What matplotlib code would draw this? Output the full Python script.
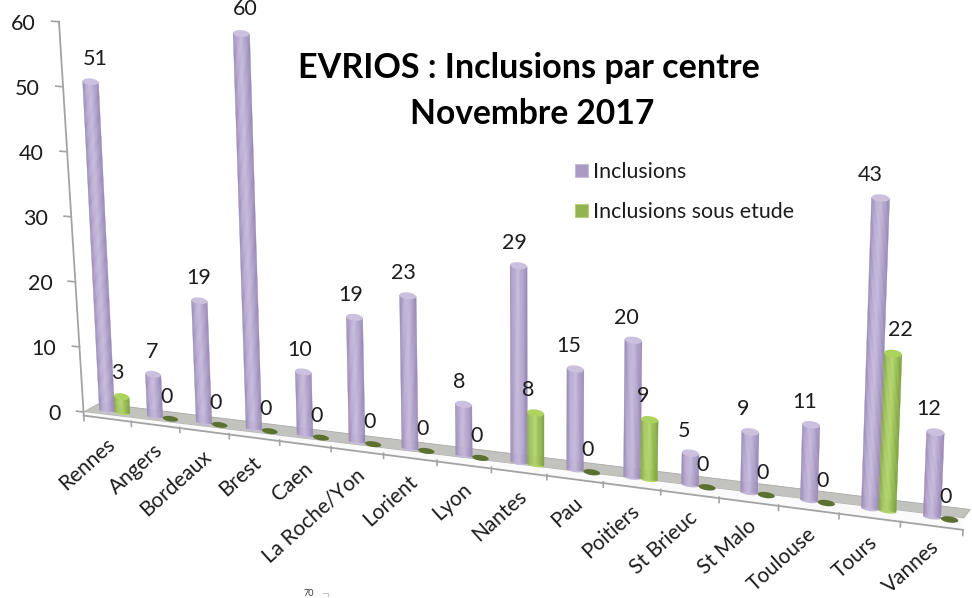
"""EVRIOS inclusions per centre, drawn as an Excel style tilted cylinder chart."""
import numpy as np
import matplotlib
matplotlib.use("Agg")
import matplotlib.pyplot as plt
from matplotlib.colors import LinearSegmentedColormap
from matplotlib.lines import Line2D
from matplotlib.patches import Patch, Polygon
from matplotlib.transforms import Transform

centres = ["Rennes", "Angers", "Bordeaux", "Brest", "Caen", "La Roche/Yon", "Lorient", "Lyon",
           "Nantes", "Pau", "Poitiers", "St Brieuc", "St Malo", "Toulouse", "Tours", "Vannes"]
inclusions = [51, 7, 19, 60, 10, 19, 23, 8, 29, 15, 20, 5, 9, 11, 43, 12]
sous_etude = [3, 0, 0, 0, 0, 0, 0, 0, 8, 0, 9, 0, 0, 0, 22, 0]
value_ticks = [0, 10, 20, 30, 40, 50, 60]

plt.rcParams["font.family"] = ["Lato", "DejaVu Sans"]
TEXT = "#1c1c1c"
LABEL_SIZE = 15.5
CAP = 0.5

purple_cmap = LinearSegmentedColormap.from_list(
    "purple", ["#9a8ab7", "#b9aad2", "#c5b9db", "#b0a0ca", "#9887b5"])
green_cmap = LinearSegmentedColormap.from_list(
    "green", ["#88a648", "#a5c862", "#b2d56c", "#96bb4f", "#80a040"])


class ChartProjection(Transform):
    """(category position, value) -> canvas pixels, with the perspective of the 3D chart."""
    input_dims = 2
    output_dims = 2
    is_separable = False
    has_inverse = False

    def transform_non_affine(self, values):
        values = np.asarray(values, dtype=float)
        p, v = values[:, 0], values[:, 1]
        height = v * (6.52 + 0.04 * p + 0.0012 * p ** 2)
        lean = -0.05 + 0.006 * p
        x = 107 + 47.5 * p + 0.5 * p ** 2 + lean * height
        y = 411 + 5.8 * p + 0.085 * p ** 2 - height
        return np.column_stack([x, y])


def bar_width(p):
    return 0.32 - 0.0027 * p


def axis_position(value):
    # the value axis leans a little more than the bars do
    return -0.5 - 0.08 * value / value_ticks[-1]


def draw_cylinder(ax, proj, p, value, cmap, top, width):
    # vertical strips give the round shading, the top stops under the cap
    body = value - CAP
    edges = np.linspace(p, p + width, 15)
    mid = p + width / 2
    t = np.linspace(np.pi, 2 * np.pi, 20)
    bottom = np.column_stack([mid + width / 2 * np.cos(t), 0.3 * np.sin(t)])
    ax.add_patch(Polygon(bottom, closed=True, transform=proj, fc=cmap(0.5), ec="none", zorder=3))
    for k in range(len(edges) - 1):
        colour = cmap((k + 0.5) / (len(edges) - 1))
        corners = [(edges[k], 0), (edges[k + 1], 0), (edges[k + 1], body), (edges[k], body)]
        ax.add_patch(Polygon(corners, closed=True, transform=proj, fc=colour, ec=colour,
                             lw=0.3, zorder=3))
    t = np.linspace(0, 2 * np.pi, 40)
    cap = np.column_stack([mid + width / 2 * np.cos(t), body + CAP * np.sin(t)])
    ax.add_patch(Polygon(cap, closed=True, transform=proj, fc=top, ec="none", zorder=3))


def value_label(ax, proj, text, p, value, dx, dy):
    ax.annotate(text, xy=(p, value), xycoords=proj, xytext=(dx, dy), textcoords="offset pixels",
                ha="center", va="center", fontsize=LABEL_SIZE, color=TEXT, zorder=5)


def main():
    fig = plt.figure(figsize=(9.72, 5.98), dpi=100)
    ax = fig.add_axes([0, 0, 1, 1])
    ax.set_xlim(0, 972)
    ax.set_ylim(598, 0)
    ax.axis("off")
    proj = ChartProjection() + ax.transData

    # chart floor: grey top and white front face
    ax.add_patch(Polygon([(-0.5, -0.6), (-0.15, 1.05), (15.6, 1.7), (15.5, 0.4)], closed=True,
                         transform=proj, fc="#c2c2be", ec="#a9a9a9", lw=0.6, zorder=1))
    ax.add_patch(Polygon([(-0.5, -0.6), (-0.5, -1.15), (15.5, -1.15), (15.5, 0.4)], closed=True,
                         transform=proj, fc="#fafafa", ec="none", zorder=1))
    axis_grey = "#a3a3a3"
    ax.add_line(Line2D([-0.5, 15.5], [-1.15, -1.15], transform=proj, color=axis_grey, lw=1.3, zorder=2))
    for k in range(len(centres) + 1):
        ax.add_line(Line2D([k - 0.5, k - 0.5], [-1.15, -1.9], transform=proj, color=axis_grey,
                           lw=1.2, zorder=2))

    # value axis, sits a bit below the floor line
    drop = 0.6
    ax.add_line(Line2D([-0.5, axis_position(value_ticks[-1])], [-1.15, value_ticks[-1] - drop],
                       transform=proj, color=axis_grey, lw=1.3, zorder=2))
    for tick in value_ticks:
        at = axis_position(tick)
        ax.add_line(Line2D([at - 0.15, at], [tick - drop, tick - drop], transform=proj,
                           color=axis_grey, lw=1.2, zorder=2))
        ax.annotate(str(tick), xy=(at - 0.15, tick - drop), xycoords=proj, xytext=(-16, -3),
                    textcoords="offset pixels", ha="right", va="center",
                    fontsize=LABEL_SIZE, color=TEXT)

    # bars, left to right so the nearer ones overlap
    purple_nudge = {0: 9, 1: 3, 2: 4, 3: 8, 14: -3}
    green_nudge = {0: 3, 14: 14}
    for i, (n, m) in enumerate(zip(inclusions, sous_etude)):
        w = bar_width(i)
        draw_cylinder(ax, proj, i - w / 2, n, purple_cmap, "#cbc1df", w)
        dx = -4 if i < 9 else -7
        dy = 21 if n == value_ticks[-1] else 19
        value_label(ax, proj, str(n), i, n, dx + purple_nudge.get(i, 0), dy)
        if m > 0:
            draw_cylinder(ax, proj, i + w / 2, m, green_cmap, "#add35f", w)
            value_label(ax, proj, str(m), i + w, m, -7 + green_nudge.get(i, 0), 20)
        else:
            t = np.linspace(0, 2 * np.pi, 40)
            mid = i + w
            ring = np.column_stack([mid + w / 2 * np.cos(t), 0.42 * np.sin(t)])
            ax.add_patch(Polygon(ring, closed=True, transform=proj, fc="#5c7030", ec="none", zorder=3))
            value_label(ax, proj, str(m), i + w, m, -4, 22)
        # last label would run off the bottom edge otherwise
        label_dy = -20 if i == len(centres) - 1 else -23
        ax.annotate(centres[i], xy=(i, 0), xycoords=proj, xytext=(-2, label_dy),
                    textcoords="offset pixels", ha="right", va="top", rotation=42,
                    rotation_mode="anchor", fontsize=15, color=TEXT, zorder=5)

    ax.text(529, 68, "EVRIOS : Inclusions par centre", ha="center", va="center",
            fontsize=24.6, fontweight="bold", color="black")
    ax.text(532, 114, "Novembre 2017", ha="center", va="center",
            fontsize=24.2, fontweight="bold", color="black")

    handles = [Patch(fc="#a99bc4", ec="#c4bbd8", lw=0.8), Patch(fc="#93b350", ec="#b5cf7d", lw=0.8)]
    ax.legend(handles, ["Inclusions", "Inclusions sous etude"], loc="upper left",
              bbox_to_anchor=(575 / 972, 1 - 162 / 598), borderaxespad=0, borderpad=0,
              frameon=False, fontsize=15.4, handlelength=0.6, handleheight=0.6,
              handletextpad=0.25, labelspacing=0.93, labelcolor=TEXT)

    # stray label left over from the source slide
    ax.text(309, 594, "70", ha="center", va="center", fontsize=6.5, color="#333333")
    ax.add_line(Line2D([323, 328, 328], [593, 593, 596], color="#c4c4c4", lw=0.8))

    fig.savefig("out.png", dpi=100)


if __name__ == "__main__":
    main()
